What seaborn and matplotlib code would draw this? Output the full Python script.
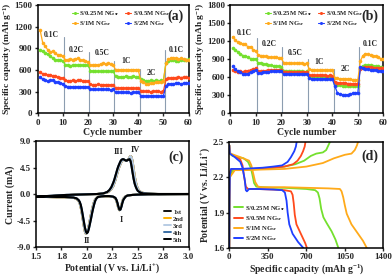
import numpy as np
import pandas as pd
import matplotlib
matplotlib.use("Agg")
import matplotlib.pyplot as plt
import seaborn as sns
from matplotlib.lines import Line2D

# ---------------- data ----------------
samples = ["S/0.25M NG$_{sr}$", "S/0.5M NG$_{sr}$", "S/1M NG$_{sr}$", "S/2M NG$_{sr}$"]
sample_colors = ["#74E02E", "#FF4A1C", "#FFAA1A", "#1F3FFF"]
cycles = list(range(1, 61))

a_green = [870, 860, 840, 820, 800, 760, 745, 740, 735, 730,
           670, 665, 660, 665, 670, 665, 670, 665, 670, 665,
           590, 585, 580, 585, 580, 580, 585, 580, 580, 585,
           510, 505, 505, 505, 510, 505, 505, 510, 505, 505,
           470, 455, 450, 450, 455, 450, 455, 450, 455, 450,
           700, 720, 735, 740, 730, 720, 735, 740, 745, 750]
a_red = [575, 545, 540, 535, 530, 520, 510, 505, 495, 490,
         455, 450, 450, 455, 450, 455, 455, 450, 450, 445,
         400, 395, 395, 400, 395, 395, 395, 390, 395, 390,
         355, 350, 355, 350, 350, 355, 350, 350, 345, 350,
         310, 305, 305, 305, 300, 305, 305, 305, 300, 305,
         470, 485, 490, 495, 495, 500, 495, 500, 500, 495]
a_orange = [1150, 980, 930, 880, 850, 860, 830, 810, 805, 790,
            740, 745, 750, 745, 755, 760, 740, 735, 725, 715,
            665, 670, 675, 670, 680, 690, 685, 690, 680, 675,
            600, 605, 600, 605, 600, 605, 600, 600, 605, 600,
            450, 430, 410, 400, 415, 420, 430, 435, 440, 445,
            690, 750, 765, 770, 760, 755, 760, 750, 745, 735]
a_blue = [500, 470, 455, 445, 460, 455, 440, 430, 420, 410,
          375, 370, 370, 365, 370, 370, 365, 370, 370, 365,
          335, 330, 330, 330, 335, 330, 330, 330, 325, 330,
          295, 290, 290, 290, 290, 290, 285, 290, 290, 290,
          245, 240, 240, 240, 240, 240, 240, 240, 240, 240,
          380, 400, 410, 410, 415, 415, 410, 415, 415, 420]

b_green = [1080, 1060, 1020, 990, 960, 950, 930, 910, 900, 910,
           830, 840, 820, 815, 800, 795, 790, 785, 780, 775,
           710, 705, 700, 700, 695, 695, 700, 695, 690, 695,
           620, 615, 615, 610, 615, 610, 610, 605, 610, 610,
           480, 470, 465, 460, 460, 455, 455, 450, 455, 450,
           760, 790, 800, 805, 800, 790, 785, 780, 770, 760]
b_red = [720, 700, 690, 695, 690, 700, 710, 720, 730, 750,
         700, 700, 705, 710, 715, 720, 720, 725, 725, 720,
         680, 680, 685, 685, 690, 690, 690, 685, 690, 690,
         630, 630, 635, 630, 635, 630, 630, 625, 630, 625,
         520, 510, 505, 500, 500, 495, 495, 490, 495, 490,
         740, 760, 770, 770, 765, 760, 755, 750, 745, 745]
b_orange = [1270, 1220, 1180, 1160, 1150, 1150, 1100, 1110, 1060, 1040,
            970, 960, 950, 945, 940, 935, 930, 930, 925, 920,
            840, 835, 830, 830, 830, 835, 830, 830, 825, 830,
            730, 725, 725, 720, 720, 720, 720, 715, 720, 720,
            590, 580, 575, 575, 570, 570, 565, 560, 560, 555,
            870, 960, 990, 980, 970, 960, 950, 930, 910, 900]
b_blue = [780, 730, 700, 680, 660, 650, 660, 680, 700, 720,
          670, 670, 680, 685, 690, 695, 700, 705, 710, 700,
          650, 650, 655, 655, 660, 660, 660, 655, 655, 660,
          580, 575, 575, 570, 575, 570, 570, 570, 565, 570,
          450, 340, 320, 310, 310, 310, 320, 330, 340, 340,
          770, 760, 740, 730, 725, 720, 715, 710, 705, 700]

rate_labels = ["0.1C", "0.2C", "0.5C", "1C", "2C", "0.1C"]
rate_label_x = [5.5, 15.5, 25.5, 35.0, 45.0, 55.0]
a_label_y = [1080, 880, 830, 720, 560, 880]
b_label_y = [1330, 1150, 1010, 860, 740, 1150]
boundaries = [10.5, 20.5, 30.5, 40.5, 50.5]
a_boundary_top = [1060, 850, 720, 620, 880]
b_boundary_top = [1250, 1110, 900, 740, 1100]

# CV (panel c)
cv_cycles = ["1st", "2nd", "3rd", "4th", "5th"]
cv_colors = ["#111111", "#FFB000", "#B8CCE4", "#3A6EA5", "#000000"]
cath_v = [3.00, 2.80, 2.60, 2.50, 2.45, 2.40, 2.38, 2.36, 2.35, 2.34, 2.33, 2.32,
          2.31, 2.30, 2.29, 2.28, 2.26, 2.22, 2.18, 2.14, 2.11, 2.10, 2.09, 2.08,
          2.07, 2.06, 2.05, 2.04, 2.03, 2.02, 2.01, 2.00, 1.99, 1.98, 1.97, 1.96,
          1.95, 1.94, 1.93, 1.92, 1.90, 1.87, 1.83, 1.78, 1.70, 1.60, 1.50]
cath_i_early = [0.05, 0.03, 0.0, -0.05, -0.1, -0.2, -0.35, -0.7, -1.1, -1.8, -2.4, -2.7,
                -2.4, -1.7, -1.1, -0.7, -0.45, -0.35, -0.35, -0.35, -0.4, -0.5, -0.65, -0.9,
                -1.3, -1.9, -2.6, -3.4, -4.3, -5.2, -5.9, -6.5, -6.7, -6.3, -5.4, -4.3,
                -3.2, -2.3, -1.6, -1.2, -0.8, -0.6, -0.55, -0.5, -0.5, -0.45, -0.45]
cath_i_late = [0.05, 0.03, 0.0, -0.05, -0.1, -0.2, -0.4, -0.9, -1.4, -2.1, -2.6, -2.6,
               -2.1, -1.4, -0.9, -0.6, -0.4, -0.3, -0.3, -0.35, -0.45, -0.6, -0.8, -1.2,
               -1.8, -2.5, -3.3, -4.2, -5.0, -5.8, -6.4, -6.6, -6.3, -5.6, -4.6, -3.6,
               -2.6, -1.8, -1.3, -1.0, -0.7, -0.55, -0.5, -0.45, -0.45, -0.4, -0.4]
anod_v = [1.50, 1.60, 1.70, 1.80, 1.90, 2.00, 2.10, 2.16, 2.20, 2.22, 2.24, 2.26,
          2.27, 2.28, 2.29, 2.30, 2.31, 2.32, 2.33, 2.34, 2.35, 2.36, 2.37, 2.38,
          2.39, 2.40, 2.41, 2.42, 2.43, 2.44, 2.45, 2.46, 2.47, 2.48, 2.49, 2.50,
          2.52, 2.55, 2.60, 2.70, 2.80, 3.00]
anod_i_early = [-0.45, -0.35, -0.25, -0.15, -0.05, 0.0, 0.05, 0.15, 0.3, 0.5, 0.85, 1.4,
                1.9, 2.4, 3.0, 3.6, 4.2, 4.7, 5.1, 5.5, 5.75, 5.85, 5.85, 5.75,
                5.7, 5.8, 6.0, 6.3, 6.5, 6.3, 5.5, 4.3, 3.1, 2.2, 1.5, 1.0,
                0.5, 0.25, 0.1, 0.05, 0.05, 0.05]
anod_i_late = [-0.4, -0.3, -0.2, -0.1, -0.05, 0.0, 0.05, 0.15, 0.4, 0.7, 1.2, 2.0,
               2.5, 3.1, 3.7, 4.3, 4.8, 5.2, 5.6, 5.85, 5.95, 5.95, 5.85, 5.75,
               5.7, 5.8, 5.9, 5.95, 5.6, 4.7, 3.6, 2.6, 1.8, 1.3, 0.9, 0.6,
               0.35, 0.15, 0.1, 0.05, 0.05, 0.05]
cv_cathodic = {"1st": cath_i_early, "2nd": cath_i_early, "3rd": cath_i_early,
               "4th": cath_i_late, "5th": cath_i_late}
cv_anodic = {"1st": anod_i_early, "2nd": anod_i_early, "3rd": anod_i_early,
             "4th": anod_i_late, "5th": anod_i_late}
peak_names = ["III", "IV", "I", "II"]
peak_x = [2.31, 2.475, 2.335, 2.005]
peak_y = [7.1, 7.6, -4.4, -7.9]

# charge / discharge (panel d)
dis_cap = {
    samples[0]: [0, 5, 30, 80, 130, 170, 195, 210, 225, 245, 300, 400, 500, 600, 700, 780, 805, 820, 835, 855, 885, 930, 965, 991],
    samples[1]: [0, 5, 50, 100, 120, 135, 150, 170, 250, 400, 500, 560, 575, 585, 595, 610, 640, 670, 690, 705],
    samples[2]: [0, 10, 100, 180, 200, 215, 235, 260, 300, 500, 700, 900, 1005, 1020, 1035, 1050, 1067, 1110, 1170, 1215, 1249],
    samples[3]: [0, 5, 50, 100, 120, 140, 150, 160, 180, 250, 400, 480, 505, 520, 530, 545, 575, 625, 672],
}
dis_pot = {
    samples[0]: [2.47, 2.40, 2.38, 2.37, 2.36, 2.33, 2.28, 2.22, 2.15, 2.12, 2.115, 2.11, 2.11, 2.105, 2.10, 2.09, 2.07, 2.02, 1.93, 1.86, 1.81, 1.74, 1.67, 1.60],
    samples[1]: [2.47, 2.40, 2.38, 2.35, 2.30, 2.20, 2.12, 2.10, 2.10, 2.095, 2.09, 2.08, 2.05, 1.98, 1.88, 1.80, 1.74, 1.68, 1.64, 1.60],
    samples[2]: [2.47, 2.40, 2.37, 2.34, 2.30, 2.24, 2.16, 2.12, 2.115, 2.115, 2.11, 2.105, 2.10, 2.08, 2.03, 1.96, 1.89, 1.80, 1.72, 1.66, 1.60],
    samples[3]: [2.47, 2.40, 2.37, 2.33, 2.28, 2.18, 2.09, 2.08, 2.10, 2.10, 2.095, 2.09, 2.07, 2.00, 1.90, 1.80, 1.72, 1.65, 1.60],
}
chg_cap = {
    samples[0]: [0, 2, 5, 30, 100, 200, 300, 400, 500, 600, 680, 740, 790, 850, 880, 900, 915],
    samples[1]: [0, 2, 5, 20, 100, 200, 300, 400, 500, 580, 620, 650, 670, 685, 692],
    samples[2]: [0, 2, 5, 50, 150, 300, 500, 700, 850, 950, 1050, 1110, 1140, 1160, 1170],
    samples[3]: [0, 2, 5, 15, 50, 100, 200, 300, 400, 480, 530, 560, 590, 605, 612],
}
chg_pot = {
    samples[0]: [1.60, 2.00, 2.20, 2.26, 2.26, 2.265, 2.27, 2.28, 2.29, 2.31, 2.34, 2.38, 2.40, 2.41, 2.43, 2.47, 2.50],
    samples[1]: [1.60, 2.00, 2.24, 2.27, 2.265, 2.27, 2.275, 2.28, 2.29, 2.31, 2.34, 2.38, 2.42, 2.46, 2.50],
    samples[2]: [1.60, 2.00, 2.20, 2.26, 2.26, 2.265, 2.27, 2.29, 2.32, 2.36, 2.39, 2.40, 2.43, 2.47, 2.50],
    samples[3]: [1.60, 2.00, 2.22, 2.27, 2.27, 2.27, 2.275, 2.28, 2.29, 2.30, 2.33, 2.37, 2.42, 2.46, 2.50],
}

# ---------------- style ----------------
sns.set_style("ticks")
plt.rcParams.update({
    "font.family": ["Liberation Serif", "DejaVu Serif"],
    "font.weight": "bold",
    "axes.labelweight": "bold",
    "mathtext.fontset": "custom",
    "mathtext.rm": "Liberation Serif:bold",
    "mathtext.it": "Liberation Serif:italic:bold",
    "mathtext.bf": "Liberation Serif:bold",
    "mathtext.default": "rm",
    "axes.linewidth": 1.1,
    "xtick.major.width": 1.0,
    "ytick.major.width": 1.0,
    "xtick.major.size": 2.5,
    "ytick.major.size": 2.5,
    "xtick.major.pad": 1.5,
    "ytick.major.pad": 1.2,
    "xtick.labelsize": 6.5,
    "ytick.labelsize": 6.5,
    "axes.labelsize": 7.0,
    "axes.edgecolor": "black",
})

fig = plt.figure(figsize=(3.92, 2.77), dpi=100)
ax_a = fig.add_axes([0.096, 0.591, 0.385, 0.391])
ax_b = fig.add_axes([0.587, 0.591, 0.391, 0.391])
ax_c = fig.add_axes([0.092, 0.107, 0.389, 0.383])
ax_d = fig.add_axes([0.585, 0.105, 0.393, 0.383])

pal = dict(zip(samples, sample_colors))


def rate_panel(ax, series, ymax, ystep, label_y, btop, tag):
    df = pd.DataFrame({
        "Cycle": cycles * 4,
        "Capacity": sum(series, []),
        "Sample": sum([[s] * len(cycles) for s in samples], []),
    })
    for x, top in zip(boundaries, btop):
        ax.plot([x, x], [0, top], color="#8C9DB0", lw=0.8, zorder=1)
    sns.lineplot(data=df, x="Cycle", y="Capacity", hue="Sample", hue_order=samples,
                 palette=pal, marker="o", markersize=2.6, markeredgewidth=0,
                 linewidth=0.9, ax=ax, legend=False, zorder=3)
    ax.set_xlim(0, 60)
    ax.set_ylim(0, ymax)
    ax.set_xticks(range(0, 61, 10))
    ax.set_yticks(range(0, ymax + 1, ystep))
    ax.set_xlabel("Cycle number", labelpad=0.5)
    ax.set_ylabel("Specific capacity (mAh g$^{-1}$)", labelpad=0.3, fontsize=6.8)
    for t, x, y in zip(rate_labels, rate_label_x, label_y):
        ax.text(x, y, t, fontsize=5.5, ha="center", va="center")
    handles = [Line2D([], [], color=c, marker="o", markersize=2.2, markeredgewidth=0, lw=0.8)
               for c in sample_colors]
    order = [0, 2, 1, 3]
    ax.legend([handles[i] for i in order], [samples[i] for i in order], ncol=2,
              loc="upper left", bbox_to_anchor=(0.2, 1.0), frameon=False,
              fontsize=4.8, handlelength=0.9, handletextpad=0.2, columnspacing=0.8,
              labelspacing=0.25, borderaxespad=0.2)
    ax.text(0.97, 0.9, tag, transform=ax.transAxes, fontsize=10, ha="right", va="center")


rate_panel(ax_a, [a_green, a_red, a_orange, a_blue], 1500, 300, a_label_y, a_boundary_top, "(a)")
rate_panel(ax_b, [b_green, b_red, b_orange, b_blue], 1800, 300, b_label_y, b_boundary_top, "(b)")

# ---- panel c ----
rows = []
for cyc in cv_cycles:
    for v, i in zip(cath_v, cv_cathodic[cyc]):
        rows.append((cyc, v, i))
    for v, i in zip(anod_v, cv_anodic[cyc]):
        rows.append((cyc, v, i))
df_c = pd.DataFrame(rows, columns=["Cycle", "Potential", "Current"])
sns.lineplot(data=df_c, x="Potential", y="Current", hue="Cycle", hue_order=cv_cycles,
             palette=dict(zip(cv_cycles, cv_colors)), sort=False, estimator=None,
             linewidth=1.5, ax=ax_c, legend=False)
ax_c.set_xlim(1.5, 3.0)
ax_c.set_ylim(-9, 9)
ax_c.set_xticks([1.5, 1.75, 2.0, 2.25, 2.5, 2.75, 3.0])
ax_c.set_xticklabels(["1.5", "1.8", "2.0", "2.3", "2.5", "2.8", "3.0"])
ax_c.set_yticks([-9, -4.5, 0, 4.5, 9])
ax_c.set_yticklabels(["-9.0", "-4.5", "0.0", "4.5", "9.0"])
ax_c.set_xlabel("Potential (V vs. Li/Li$^{+}$)", labelpad=0.5)
ax_c.set_ylabel("Current (mA)", labelpad=1)
for t, x, y in zip(peak_names, peak_x, peak_y):
    ax_c.text(x, y, t, fontsize=6, ha="center", va="center")
ax_c.text(0.97, 0.85, "(c)", transform=ax_c.transAxes, fontsize=10, ha="right", va="center")
cv_handles = [Line2D([], [], color=c, lw=1.4) for c in cv_colors]
ax_c.legend(cv_handles, cv_cycles, loc="lower right", bbox_to_anchor=(1.0, 0.0),
            frameon=False, fontsize=4.8, handlelength=1.0, handletextpad=0.3,
            labelspacing=0.2, borderaxespad=0.3)

# ---- panel d ----
rows = []
for s in samples:
    for c, p in zip(dis_cap[s], dis_pot[s]):
        rows.append((s, "discharge", c, p))
    for c, p in zip(chg_cap[s], chg_pot[s]):
        rows.append((s, "charge", c, p))
df_d = pd.DataFrame(rows, columns=["Sample", "Branch", "Capacity", "Potential"])
sns.lineplot(data=df_d, x="Capacity", y="Potential", hue="Sample", hue_order=samples,
             units="Branch", estimator=None, sort=False, palette=pal,
             linewidth=1.3, ax=ax_d, legend=False)
ax_d.set_xlim(0, 1400)
ax_d.set_ylim(1.6, 2.5)
ax_d.set_xticks([0, 350, 700, 1050, 1400])
ax_d.set_yticks([1.6, 1.9, 2.2, 2.5])
ax_d.set_yticklabels(["1.6", "1.9", "2.2", "2.5"])
ax_d.set_xlabel("Specific capacity (mAh g$^{-1}$)", labelpad=0.5)
ax_d.set_ylabel("Potential (V vs. Li/Li$^{+}$)", labelpad=1)
ax_d.text(0.97, 0.86, "(d)", transform=ax_d.transAxes, fontsize=10, ha="right", va="center")
d_handles = [Line2D([], [], color=c, lw=1.4) for c in sample_colors]
ax_d.legend(d_handles, samples, loc="lower left", bbox_to_anchor=(0.0, 0.0),
            frameon=False, fontsize=4.8, handlelength=1.4, handletextpad=0.3,
            labelspacing=0.2, borderaxespad=0.3)

for ax in (ax_a, ax_b, ax_c, ax_d):
    for sp in ax.spines.values():
        sp.set_visible(True)
        sp.set_linewidth(1.1)
    ax.tick_params(direction="out")

fig.savefig("out.png", dpi=100)
